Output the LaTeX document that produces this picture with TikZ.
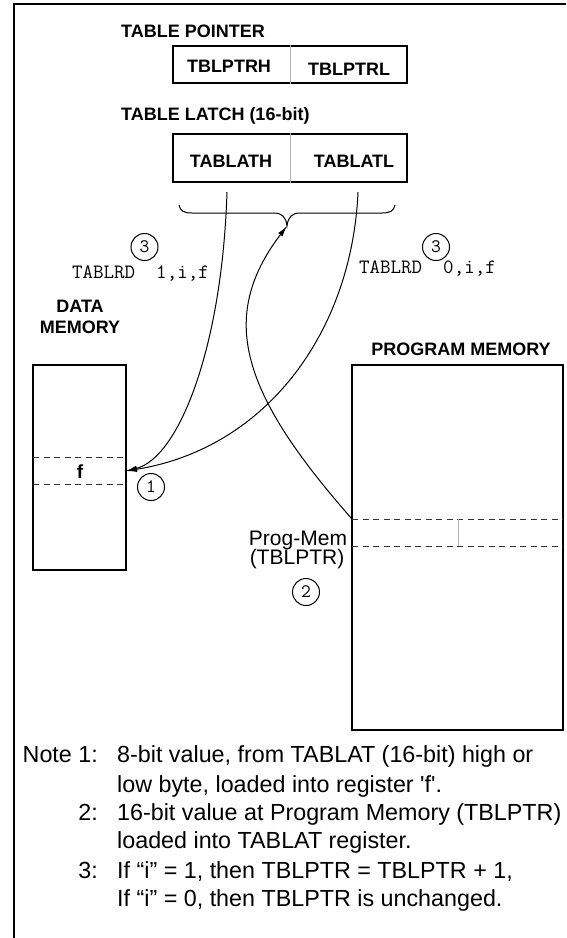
\documentclass[tikz,border=0pt]{standalone}
\usepackage{fontspec}
\setmainfont{Liberation Sans}
\usetikzlibrary{arrows.meta}
\begin{document}
\begin{tikzpicture}[x=1pt,y=-1pt,
  lbl/.style={font=\bfseries\fontsize{18}{21}\selectfont, inner sep=0pt},
  reg/.style={draw, line width=1.2pt, inner sep=0pt},
  divider/.style={gray!60, line width=1pt},
  dsh/.style={black!80, line width=1pt, dash pattern=on 6pt off 4.5pt},
  conn/.style={line width=1pt},
  arr/.style={line width=1pt, -{Latex[length=11pt,width=5.5pt]}},
  code/.style={font=\ttfamily\fontsize{20.4}{22}\selectfont, inner sep=0pt},
  circ/.style={circle, draw, line width=1pt, minimum size=27pt, inner sep=0pt, font=\ttfamily\fontsize{19}{20}\selectfont},
  notetxt/.style={font=\fontsize{23.3}{28}\selectfont, inner sep=0pt},
  side/.style={font=\fontsize{21}{21}\selectfont, inner sep=0pt}]
\useasboundingbox (0,0) rectangle (566,938);
% frame
\draw[line width=2.3pt] (14,938) -- (14,4) -- (566,4);

% table pointer
\node[lbl, anchor=base west] (tptitle) at (121,37) {TABLE POINTER};
\node[reg, minimum width=234pt, minimum height=37pt] (tp) at (290,64.5) {};
\draw[divider] (tp.north) -- (tp.south);
\node[lbl, anchor=base] (tph) at (229,72) {TBLPTRH};
\node[lbl, anchor=base] (tpl) at (349,75) {TBLPTRL};

% table latch
\node[lbl, anchor=base west] (tltitle) at (121,120) {TABLE LATCH (16-bit)};
\node[reg, minimum width=234pt, minimum height=48pt] (tl) at (290,158) {};
\draw[divider] (tl.north) -- (tl.south);
\node[lbl, anchor=base] (tlh) at (231,167) {TABLATH};
\node[lbl, anchor=base] (tll) at (354,167) {TABLATL};

% brace
\draw[conn] (179,205) .. controls (180,211) and (184,213) .. (192,213) -- (274,213)
  .. controls (282,213) and (286,217) .. (287,226)
  .. controls (288,217) and (292,213) .. (300,213) -- (382,213)
  .. controls (390,213) and (394,211) .. (395,205);
\coordinate (btip) at (287,226);

% data memory
\node[lbl, align=center, anchor=base] (dmt) at (80,333) {DATA\\MEMORY};
\node[reg, minimum width=93pt, minimum height=205pt] (dm) at (79.5,467.5) {};
\draw[dsh] (33,457) -- (126,457);
\draw[dsh] (33,484) -- (126,484);
\node[lbl, font=\bfseries\fontsize{19}{21}\selectfont, anchor=base] (f) at (80,478) {f};
\coordinate (ftip) at (126,471);

% program memory
\node[lbl, anchor=base] (pmt) at (461,355) {PROGRAM MEMORY};
\node[reg, minimum width=211pt, minimum height=365pt] (pm) at (457.5,547.5) {};
\draw[dsh] (352,519) -- (563,519);
\draw[dsh] (352,546) -- (563,546);
\draw[divider] (458,519) -- (458,546);
\coordinate (pmrow) at (352,519);
\node[side, anchor=base] (pg1) at (298,545) {Prog-Mem};
\node[side, anchor=base] (pg2) at (297,564) {(TBLPTR)};

% connectors
\coordinate (la) at (227,192);
\coordinate (lb) at (358,192);
\draw[arr] (la) .. controls (222,350) and (178,458) .. (ftip);
\draw[arr] (lb) .. controls (352,330) and (268,448) .. (ftip);
\draw[arr] (pmrow) .. controls (242,394) and (217,318) .. (btip);

% labels
\node[circ] (c3a) at (144.5,247) {3};
\node[circ] (c3b) at (436,247) {3};
\node[code, anchor=base west] (tr1) at (72,278) {TABLRD\ \ 1,i,f};
\node[code, anchor=base west] (tr0) at (359,273) {TABLRD\ \ 0,i,f};
\node[circ] (c1) at (151,487) {1};
\node[circ] (c2) at (306,592) {2};

% notes
\node[notetxt, anchor=base east] (n1) at (98,762) {Note 1:};
\node[notetxt, anchor=base west] (n1a) at (117,762) {8-bit value, from TABLAT (16-bit) high or};
\node[notetxt, anchor=base west] (n1b) at (117,792) {low byte, loaded into register \textquotesingle f\textquotesingle.};
\node[notetxt, anchor=base east] (n2) at (98,820) {2:};
\node[notetxt, anchor=base west] (n2a) at (117,820) {16-bit value at Program Memory (TBLPTR)};
\node[notetxt, anchor=base west] (n2b) at (117,848) {loaded into TABLAT register.};
\node[notetxt, anchor=base east] (n3) at (98,878) {3:};
\node[notetxt, anchor=base west] (n3a) at (117,878) {If “i” = 1, then TBLPTR = TBLPTR + 1,};
\node[notetxt, anchor=base west] (n3b) at (117,906) {If “i” = 0, then TBLPTR is unchanged.};
\end{tikzpicture}
\end{document}
